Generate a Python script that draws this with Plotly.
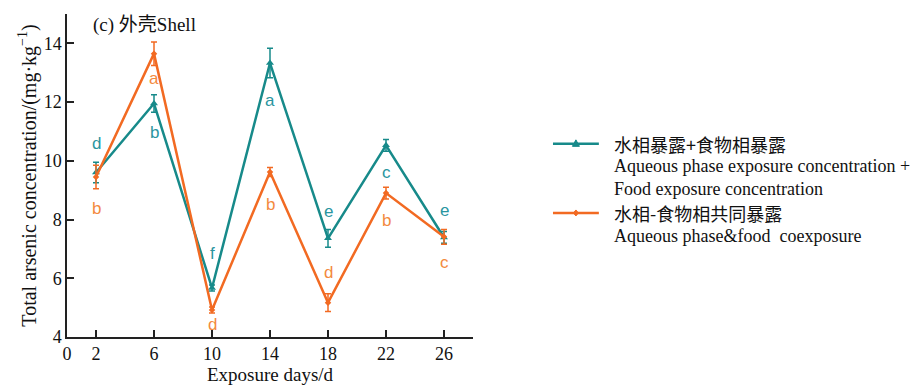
import plotly.graph_objects as go

# Exposure days and total arsenic in shell (mg/kg)
days = [2, 6, 10, 14, 18, 22, 26]

sep_mean = [9.6, 11.95, 5.67, 13.33, 7.36, 10.53, 7.39]
sep_err = [0.35, 0.3, 0.1, 0.5, 0.3, 0.2, 0.2]
sep_letters = ["d", "b", "f", "a", "e", "c", "e"]
sep_letter_y = [10.6, 10.97, 6.86, 12.06, 8.29, 9.61, 8.32]

co_mean = [9.45, 13.65, 4.92, 9.62, 5.17, 8.9, 7.41]
co_err = [0.4, 0.4, 0.1, 0.15, 0.3, 0.2, 0.25]
co_letters = ["b", "a", "d", "b", "d", "b", "c"]
co_letter_y = [8.39, 12.81, 4.41, 8.52, 6.18, 7.98, 6.55]

x_ticks = [0, 2, 6, 10, 14, 18, 22, 26]
y_ticks = [4, 6, 8, 10, 12, 14]

TEAL = "#178a8a"
ORANGE = "#f26a22"
TEAL_TXT = "#2a95a0"
ORANGE_TXT = "#f38a40"

fig = go.Figure()

fig.add_trace(go.Scatter(
    x=days, y=sep_mean, mode="lines+markers",
    line=dict(color=TEAL, width=2.5),
    marker=dict(symbol="triangle-up", size=7, color=TEAL),
    error_y=dict(type="data", array=sep_err, color=TEAL, thickness=1.5, width=3),
    showlegend=False,
))
fig.add_trace(go.Scatter(
    x=days, y=co_mean, mode="lines+markers",
    line=dict(color=ORANGE, width=2.5),
    marker=dict(symbol="diamond", size=5, color=ORANGE),
    error_y=dict(type="data", array=co_err, color=ORANGE, thickness=1.5, width=3),
    showlegend=False,
))

letter_font = "Liberation Sans Narrow, Arial Narrow, Liberation Sans, sans-serif"
for d, ly, t in zip(days, sep_letter_y, sep_letters):
    fig.add_annotation(x=d, y=ly, text=t, showarrow=False,
                       font=dict(family=letter_font, size=17, color=TEAL_TXT))
for d, ly, t in zip(days, co_letter_y, co_letters):
    fig.add_annotation(x=d, y=ly, text=t, showarrow=False,
                       font=dict(family=letter_font, size=17, color=ORANGE_TXT))

serif = "Liberation Serif, Times New Roman, serif"
cjk = "Noto Sans CJK SC"

# Panel label
fig.add_annotation(xref="paper", yref="paper", x=0.058, y=0.975, xanchor="left", yanchor="middle",
                   text="(c) <span style='font-family:Noto Sans CJK SC'>外壳</span>Shell",
                   showarrow=False, font=dict(family=serif, size=19, color="#111"))

# Legend drawn beside the plot: sample line, small marker, then the label lines
PX = 1 / 406.0  # one pixel in paper-x units
PY = 1 / 323.0  # one pixel in paper-y units
legend_rows = [
    (TEAL, "triangle", 0.598, [
        ("水相暴露+食物相暴露", cjk, 0.598),
        ("Aqueous phase exposure concentration +", serif, 0.53),
        ("Food exposure concentration", serif, 0.459),
    ]),
    (ORANGE, "diamond", 0.384, [
        ("水相-食物相共同暴露", cjk, 0.384),
        ("Aqueous phase&amp;food  coexposure", serif, 0.313),
    ]),
]
cx = 1.2535
for color, kind, ly, lines in legend_rows:
    fig.add_shape(type="line", xref="paper", yref="paper", x0=1.197, x1=1.31, y0=ly, y1=ly,
                  line=dict(color=color, width=2.5))
    if kind == "triangle":
        path = (f"M {cx - 3.5 * PX} {ly - 2.5 * PY} L {cx + 3.5 * PX} {ly - 2.5 * PY} "
                f"L {cx} {ly + 4 * PY} Z")
    else:
        path = (f"M {cx - 2.5 * PX} {ly} L {cx} {ly + 3 * PY} "
                f"L {cx + 2.5 * PX} {ly} L {cx} {ly - 3 * PY} Z")
    fig.add_shape(type="path", xref="paper", yref="paper", path=path,
                  fillcolor=color, line=dict(color=color, width=1))
    for txt, fam, ty in lines:
        fig.add_annotation(xref="paper", yref="paper", x=1.342, y=ty, xanchor="left", yanchor="middle",
                           text=txt, showarrow=False,
                           font=dict(family=fam, size=18, color="#111"))

axis_common = dict(
    showline=True, linecolor="#222", linewidth=1.5, mirror=False,
    ticks="inside", ticklen=7, tickwidth=1.5, tickcolor="#222",
    showgrid=False, zeroline=False, automargin=False,
    tickfont=dict(family=serif, size=18, color="#111"),
)

fig.update_layout(
    width=917, height=385,
    margin=dict(l=67, r=444, t=14, b=48),
    plot_bgcolor="white", paper_bgcolor="white",
    xaxis=dict(range=[0, 28], tickvals=x_ticks,
               minor=dict(tickvals=[28], ticks="inside", ticklen=7, tickwidth=1.5, tickcolor="#222"),
               title=dict(text="Exposure days/d", font=dict(family=serif, size=19, color="#111"), standoff=5),
               **axis_common),
    yaxis=dict(range=[4, 15], tickvals=y_ticks,
               minor=dict(tickvals=[15], ticks="inside", ticklen=7, tickwidth=1.5, tickcolor="#222"),
               title=dict(text="Total arsenic concentration/(mg·kg<sup>−1</sup>)",
                          font=dict(family=serif, size=20, color="#111"), standoff=2),
               **axis_common),
)

fig.write_html("out.html")
